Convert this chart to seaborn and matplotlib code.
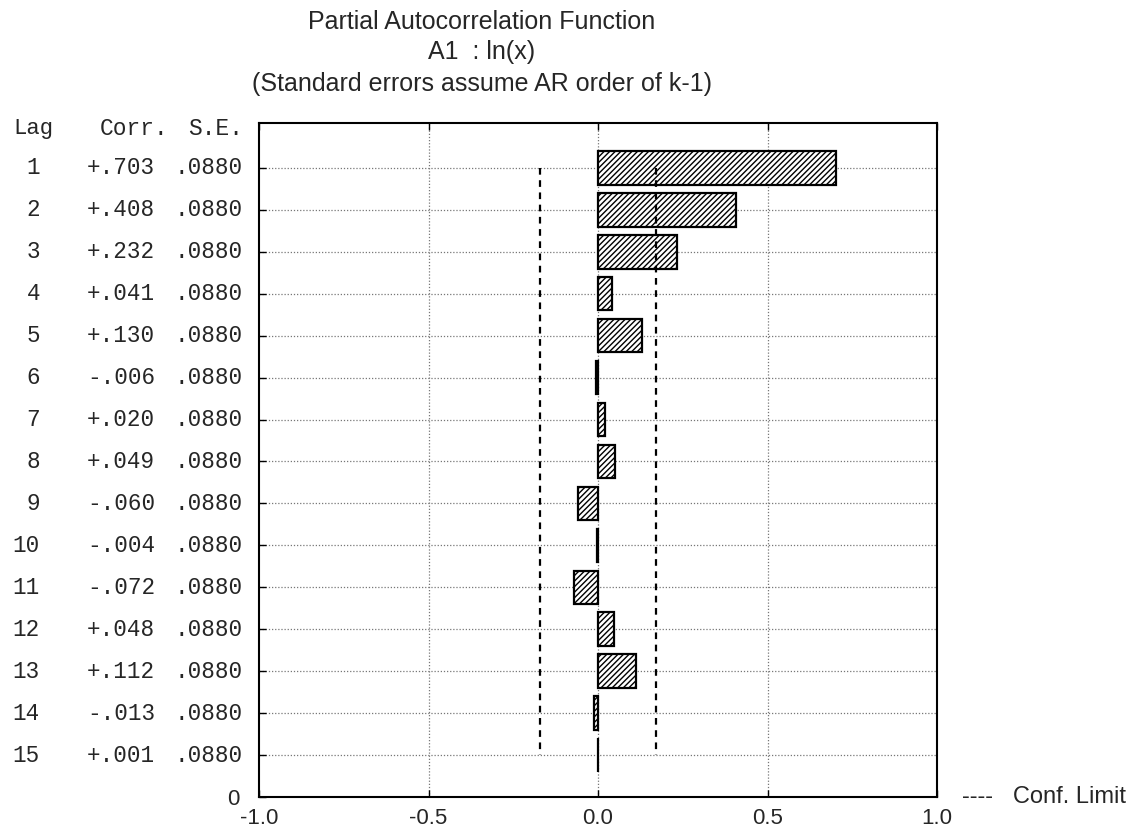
import numpy as np
import pandas as pd
import seaborn as sns
import matplotlib
matplotlib.use("Agg")
import matplotlib.pyplot as plt
from matplotlib.transforms import blended_transform_factory

lags = [1, 2, 3, 4, 5, 6, 7, 8, 9, 10, 11, 12, 13, 14, 15]
corr = [0.703, 0.408, 0.232, 0.041, 0.130, -0.006, 0.020, 0.049,
        -0.060, -0.004, -0.072, 0.048, 0.112, -0.013, 0.001]
se = [0.0880] * 15
xticks = [-1.0, -0.5, 0.0, 0.5, 1.0]
xticklabels = ["-1.0", "-0.5", "0.0", "0.5", "1.0"]
title_lines = ["Partial Autocorrelation Function", "A1  : ln(x)",
               "(Standard errors assume AR order of k-1)"]

sns.set_theme(style="white")
plt.rcParams["font.family"] = ["Liberation Sans", "DejaVu Sans"]
plt.rcParams["hatch.linewidth"] = 1.0

W, H = 1138, 836
fig = plt.figure(figsize=(W / 100, H / 100), dpi=100)
L, R, T, B = 259, 937, 123, 797
ax = fig.add_axes([L / W, 1 - B / H, (R - L) / W, (B - T) / H])

df = pd.DataFrame({"lag": lags, "corr": corr})
sns.barplot(data=df, x="corr", y="lag", orient="h", native_scale=True,
            color="white", edgecolor="black", linewidth=1.6, width=0.8,
            ax=ax, saturation=1)
for p in ax.patches:
    p.set_hatch("//////")
    p.set_facecolor("white")

# confidence limits
conf = 1.96 * np.array(se)
ax.vlines([-conf[0], conf[0]], lags[0], lags[-1], colors="black",
          linestyles=(0, (3, 2.5)), linewidth=1.6, zorder=3)

ax.set_xlim(-1, 1)
ax.set_ylim(16, -0.07)
ax.set_xticks(xticks)
ax.set_xticklabels(xticklabels, fontsize=16)
ax.set_yticks(lags + [16])
ax.set_yticklabels([""] * 15 + ["0"], fontsize=16)
ax.tick_params(axis="both", direction="in", length=5, width=1, color="black",
               left=True, bottom=True, top=True)
ax.tick_params(axis="x", pad=8)
ax.tick_params(axis="y", pad=14)
ax.set_xlabel("")
ax.set_ylabel("")
for s in ax.spines.values():
    s.set_color("black")
    s.set_linewidth(1.5)

# gridlines
for y in lags:
    ax.axhline(y, color="#777777", linestyle=(0, (1, 1.5)), linewidth=0.9, zorder=0)
for x in [-0.5, 0.0, 0.5]:
    ax.axvline(x, color="#777777", linestyle=(0, (1, 1.5)), linewidth=0.9, zorder=0)

# left table
tr = blended_transform_factory(fig.transFigure, ax.transData)
mono = ["Liberation Mono", "DejaVu Sans Mono"]
fs = 16.3
fig.text(13 / W, 0.05, "Lag", transform=tr, family=mono, fontsize=16, va="center", ha="left")
fig.text(100 / W, 0.05, "Corr.", transform=tr, family=mono, fontsize=16.5, va="center", ha="left")
fig.text(243 / W, 0.05, "S.E.", transform=tr, family=mono, fontsize=16.5, va="center", ha="right")
for lag, c, s in zip(lags, corr, se):
    cs = ("+" if c >= 0 else "-") + f"{abs(c):.3f}"[1:]
    ss = f"{s:.4f}"[1:]
    fig.text(40 / W, lag, str(lag), transform=tr, family=mono, fontsize=fs, va="center", ha="right")
    fig.text(87 / W, lag, cs, transform=tr, family=mono, fontsize=fs, va="center", ha="left")
    fig.text(243 / W, lag, ss, transform=tr, family=mono, fontsize=fs, va="center", ha="right")

# titles
for yy, t in zip([22, 52, 84], title_lines):
    fig.text(482 / W, 1 - yy / H, t, fontsize=18, ha="center", va="center")

# legend
fig.text(962 / W, 1 - 797 / H, "----   Conf. Limit", fontsize=17, ha="left", va="center")

fig.savefig("out.png", dpi=100)
